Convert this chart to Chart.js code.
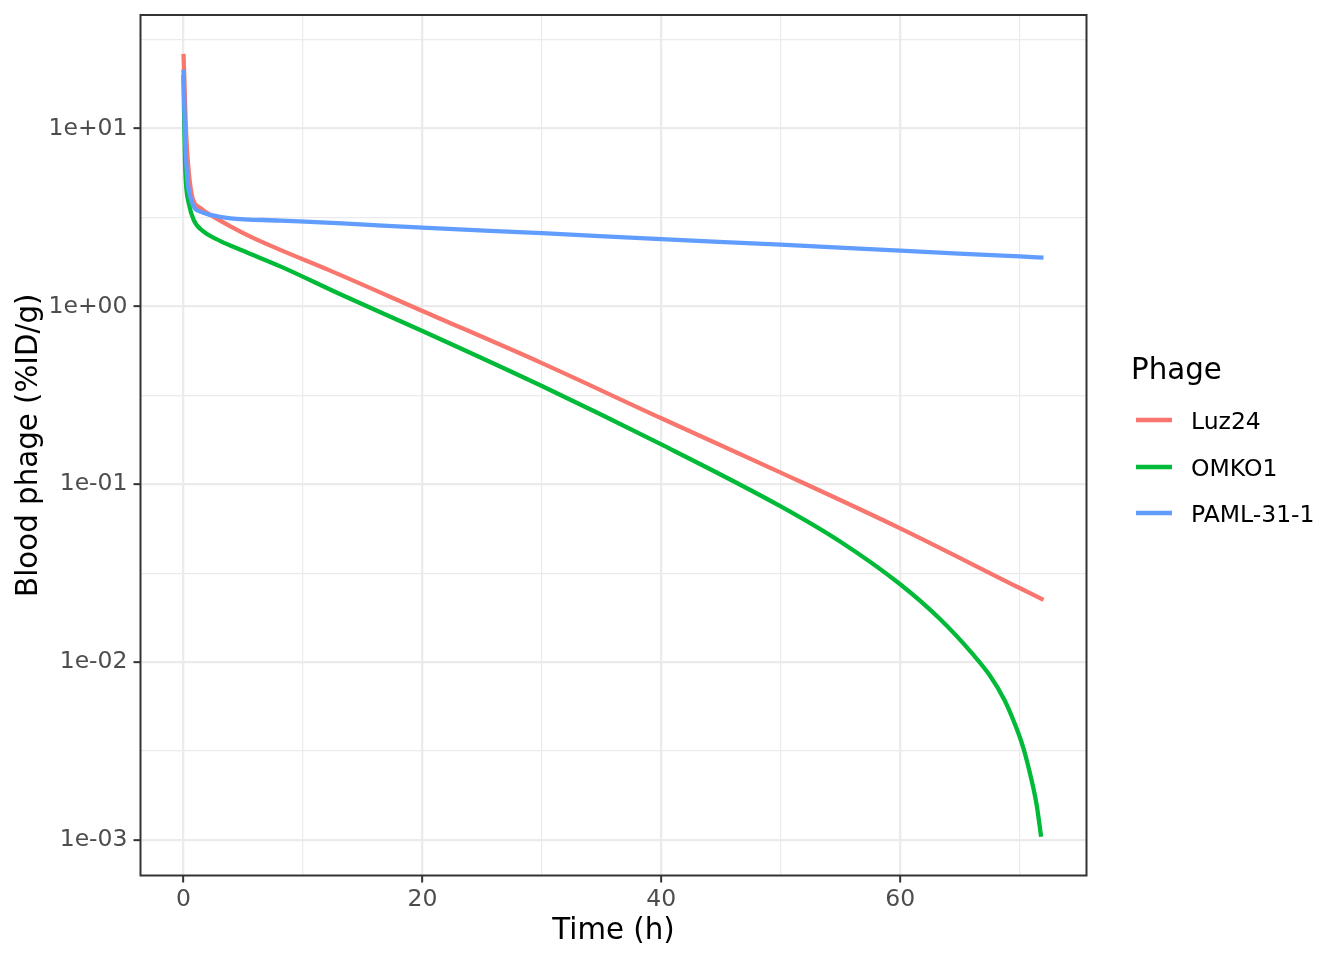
<!DOCTYPE html>
<html>
<head>
<meta charset="utf-8">
<script src="https://cdn.jsdelivr.net/npm/chart.js@4.4.1/dist/chart.umd.min.js"></script>
<style>
  html, body { margin: 0; padding: 0; background: #fff; }
  #c { display: block; }
</style>
</head>
<body>
<canvas id="c" width="1344" height="960" style="width:1344px;height:960px"></canvas>
<script>
// series
const seriesNames = ['Luz24', 'OMKO1', 'PAML-31-1']
const seriesColors = ['#F8766D', '#00BA38', '#619CFF']

const luzTime  = [0, 0.08, 0.18, 0.3, 0.45, 0.73, 1.42, 2.26, 3.93, 5.6, 8.1, 12.18, 20, 30, 40, 50, 60, 70, 72]
const luzValue = [26.3, 18, 11, 7.5, 5.6, 4.14, 3.57, 3.27, 2.82, 2.47, 2.08, 1.6, 0.943, 0.48, 0.235, 0.1163, 0.0565, 0.0261, 0.0224]

const omkoTime  = [0, 0.05, 0.12, 0.2, 0.44, 0.86, 1.7, 3.1, 4.93, 8.2, 13.13, 20, 30, 40, 50, 55, 60, 63.29, 66.08, 67.48, 68.73, 69.57, 70.26, 70.96, 71.43, 71.8]
const omkoValue = [20, 12, 6.8, 5.0, 3.8, 3.06, 2.63, 2.33, 2.06, 1.668, 1.17, 0.728, 0.357, 0.1675, 0.0751, 0.0475, 0.0274, 0.01758, 0.01109, 0.00846, 0.00613, 0.00455, 0.00338, 0.00223, 0.00157, 0.001044]

const pamlTime  = [0, 0.07, 0.14, 0.31, 0.44, 0.86, 1.42, 2.26, 3.93, 8.1, 13.3, 20, 30, 40, 50, 60, 70, 72]
const pamlValue = [21.4, 13, 8.6, 5.3, 4.52, 3.64, 3.41, 3.27, 3.13, 3.04, 2.93, 2.77, 2.58, 2.39, 2.223, 2.057, 1.91, 1.881]

const xMajorTicks = [0, 20, 40, 60]
const xMinorTicks = [10, 30, 50, 70]
const xTickLabels = ['0', '20', '40', '60']
const yMajorTicks = [0.001, 0.01, 0.1, 1, 10]
const yMinorTicks = [0.003162, 0.03162, 0.3162, 3.162, 31.62]
const yTickLabels = ['1e-03', '1e-02', '1e-01', '1e+00', '1e+01']

const xLimits = [-3.6, 75.6]
const yLimits = [0.0006317, 43.5]

const FONT = 'DejaVu Sans'
const LINE_W = 4.3
const times = [luzTime, omkoTime, pamlTime]
const values = [luzValue, omkoValue, pamlValue]

const datasets = seriesNames.map((name, i) => ({
  label: name,
  data: times[i].map((t, j) => ({ x: t, y: values[i][j] })),
  borderColor: seriesColors[i],
  borderWidth: LINE_W,
  pointRadius: 0,
  fill: false,
  cubicInterpolationMode: 'monotone',
  order: seriesNames.length - i
}))

const mkTicks = (major, minor) =>
  major.map(v => ({ value: v })).concat(minor.map(v => ({ value: v, minor: true })))
    .sort((a, b) => a.value - b.value)

const gridColor = c => '#EBEBEB'
const gridWidth = c => (c.tick && c.tick.minor ? 1.2 : 2.3)
const tickColor = c => (c.tick && c.tick.minor ? 'rgba(0,0,0,0)' : '#333333')

const panelAndLegend = {
  id: 'panelAndLegend',
  afterDraw(chart) {
    const { ctx, chartArea: a } = chart
    ctx.save()
    ctx.strokeStyle = '#333333'
    ctx.lineWidth = 2
    ctx.strokeRect(a.left, a.top, a.right - a.left, a.bottom - a.top)

    // legend (ggplot style)
    ctx.fillStyle = '#000'
    ctx.textAlign = 'left'
    ctx.textBaseline = 'alphabetic'
    ctx.font = `29.3px "${FONT}"`
    ctx.fillText('Phage', 1131, 379)
    ctx.font = `23.5px "${FONT}"`
    const ys = [420, 467, 513]
    seriesNames.forEach((n, i) => {
      ctx.strokeStyle = seriesColors[i]
      ctx.lineWidth = LINE_W
      ctx.beginPath()
      ctx.moveTo(1136, ys[i])
      ctx.lineTo(1172, ys[i])
      ctx.stroke()
      ctx.fillStyle = '#000'
      ctx.fillText(n, 1191, ys[i] + 9)
    })
    ctx.restore()
  }
}

new Chart(document.getElementById('c'), {
  type: 'line',
  data: { datasets },
  plugins: [panelAndLegend],
  options: {
    responsive: false,
    animation: false,
    devicePixelRatio: 1,
    layout: { padding: { top: 15, right: 257.5, bottom: 0, left: 0 } },
    plugins: { legend: { display: false }, tooltip: { enabled: false } },
    scales: {
      x: {
        type: 'linear',
        bounds: 'data',
        min: xLimits[0],
        max: xLimits[1],
        afterBuildTicks: ax => {
          ax.ticks = mkTicks(xMajorTicks, xMinorTicks)
          ax.min = xLimits[0]; ax.max = xLimits[1]
        },
        afterFit: ax => { ax.height = 84.5; ax.paddingLeft = 0; ax.paddingRight = 0 },
        border: { display: false },
        grid: { color: gridColor, lineWidth: gridWidth, tickColor, tickWidth: 2, tickLength: 7 },
        ticks: {
          autoSkip: false, maxRotation: 0, padding: 3,
          color: '#4D4D4D', font: { family: FONT, size: 23.5 },
          callback: v => { const k = xMajorTicks.indexOf(v); return k >= 0 ? xTickLabels[k] : '' }
        },
        title: { display: true, text: 'Time (h)', color: '#000', font: { family: FONT, size: 29.3 }, padding: { top: 0, bottom: 11 } }
      },
      y: {
        type: 'logarithmic',
        bounds: 'data',
        min: yLimits[0],
        max: yLimits[1],
        afterBuildTicks: ax => {
          ax.ticks = mkTicks(yMajorTicks, yMinorTicks)
          ax.min = yLimits[0]; ax.max = yLimits[1]
        },
        afterFit: ax => { ax.width = 140.5; ax.paddingTop = 0; ax.paddingBottom = 0 },
        border: { display: false },
        grid: { color: gridColor, lineWidth: gridWidth, tickColor, tickWidth: 2, tickLength: 7 },
        ticks: {
          autoSkip: false, padding: 6,
          color: '#4D4D4D', font: { family: FONT, size: 23.5 },
          callback: v => {
            const k = yMajorTicks.findIndex(m => Math.abs(Math.log10(m) - Math.log10(v)) < 1e-6)
            return k >= 0 ? yTickLabels[k] : ''
          }
        },
        title: { display: true, text: 'Blood phage (%ID/g)', color: '#000', font: { family: FONT, size: 29.3 }, padding: { top: 12, bottom: 0 } }
      }
    }
  }
})
</script>
</body>
</html>
